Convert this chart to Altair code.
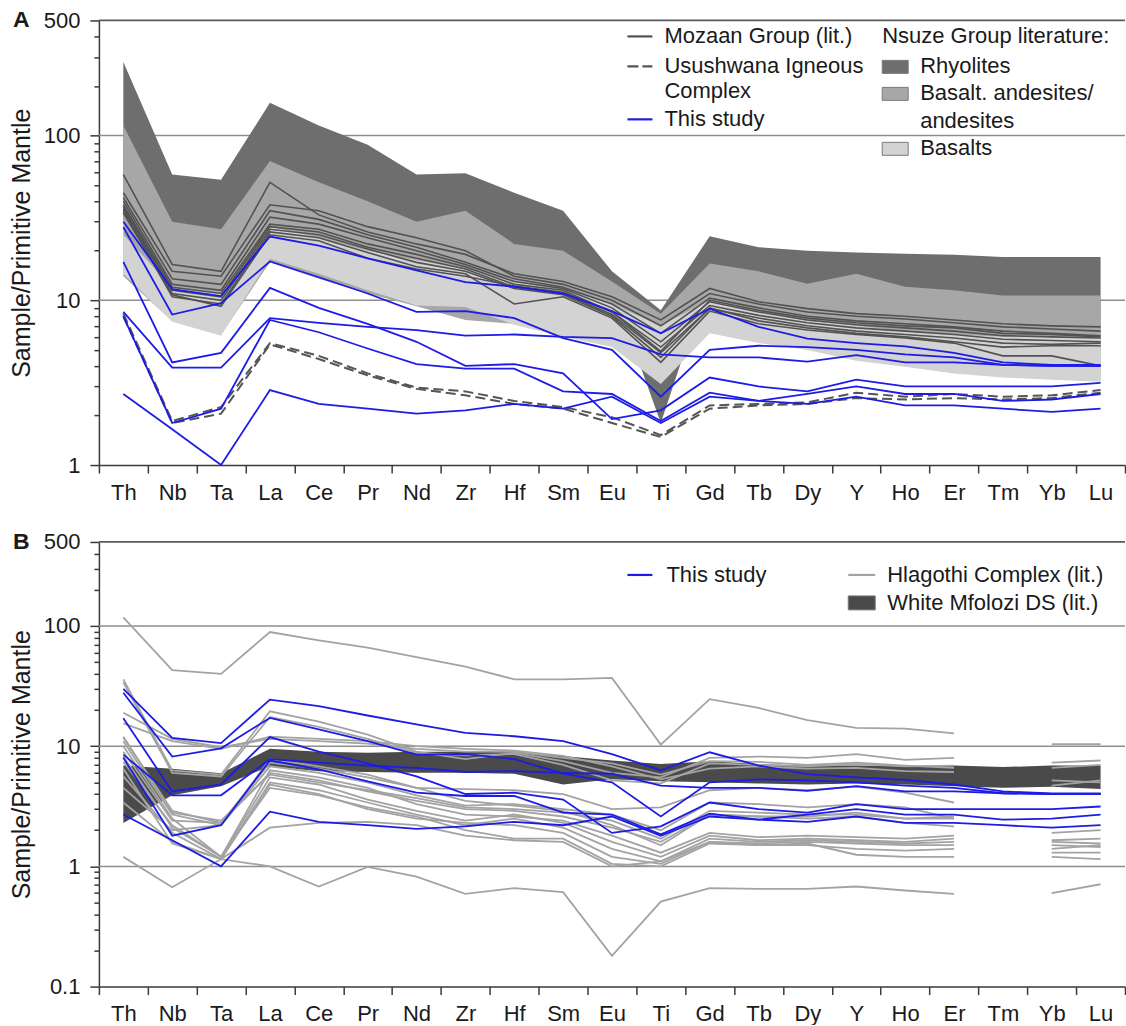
import altair as alt
import pandas as pd

ELEMENTS = ["Th", "Nb", "Ta", "La", "Ce", "Pr", "Nd", "Zr", "Hf", "Sm", "Eu",
            "Ti", "Gd", "Tb", "Dy", "Y", "Ho", "Er", "Tm", "Yb", "Lu"]

# ---- Panel A: Nsuze Group literature envelopes (upper / lower bounds) ----
RHYOLITE_HI = [280, 58, 54, 158, 115, 88, 58, 59, 45, 35, 15, 8.7, 24.5, 21, 20, 19.5, 19.2, 18.9, 18.3, 18.3, 18.3]
RHYOLITE_LO = [30, 10, 9, 20, 17, 14, 12, 11, 10, 9, 12, 1.8, 14, 7, 6.5, 6, 5.5, 5.5, 5, 5, 5]
ANDESITE_HI = [115, 30, 27, 70, 52, 40, 30, 35, 22, 20, 13, 8.3, 16.7, 15, 12.6, 14.5, 12.1, 11.5, 10.7, 10.7, 10.7]
ANDESITE_LO = [14, 7.5, 6.2, 17, 13.5, 11, 9.2, 7.6, 7.2, 6.2, 5.4, 3.3, 6.4, 5.6, 5.1, 4.4, 4.0, 3.7, 3.5, 3.4, 3.3]
BASALT_HI = [25, 12, 11, 28, 24, 20, 17.5, 15.5, 13, 11.5, 9.5, 7.0, 10, 8.5, 7.5, 7, 6.5, 6.2, 6, 6, 6]
BASALT_LO = [14.5, 7.4, 6.1, 17.9, 14.5, 11.5, 9.3, 9.1, 7.1, 6.0, 5.2, 3.1, 6.3, 5.5, 5.0, 4.3, 3.95, 3.6, 3.4, 3.3, 3.2]

# Mozaan Group (lit.)
MOZAAN = [
    [58, 16.5, 15, 52, 33, 26, 22, 19, 14.5, 13, 10.5, 7.6, 11.8, 9.8, 8.9, 8.3, 8.0, 7.6, 7.2, 7.0, 6.9],
    [45, 15, 14, 38, 35, 28, 24, 20, 14, 12.5, 10, 7.0, 11.0, 9.5, 8.5, 8.0, 7.7, 7.3, 6.9, 6.7, 6.5],
    [42, 13.5, 12.5, 35, 31, 25, 21, 17, 13.5, 12, 9.5, 6.3, 10.3, 9.0, 8.0, 7.5, 7.2, 6.9, 6.5, 6.3, 6.1],
    [40, 12.5, 11.5, 32, 29, 24, 20, 16.5, 13, 11.8, 9.0, 5.6, 9.8, 8.5, 7.6, 7.1, 6.8, 6.5, 6.1, 6.0, 5.9],
    [38, 12, 11, 29, 27, 22, 19, 16, 12.5, 11.5, 8.5, 5.2, 9.3, 8.1, 7.3, 6.8, 6.5, 6.2, 5.8, 5.7, 5.6],
    [37, 11.5, 10.5, 28, 26, 21, 18, 15.5, 12, 11, 8.2, 4.8, 8.9, 7.8, 7.0, 6.5, 6.2, 5.9, 5.5, 5.4, 5.5],
    [36, 11, 10, 27, 25, 20.5, 17, 15, 11.8, 10.8, 8.0, 4.5, 9.0, 7.5, 6.8, 6.3, 6.0, 5.6, 5.2, 5.3, 5.3],
    [35, 10.5, 9.5, 26, 24, 19.5, 16, 14.5, 9.5, 10.5, 7.8, 4.2, 8.6, 7.2, 6.6, 6.2, 5.9, 5.5, 4.6, 4.6, 4.0],
    [34, 10.8, 9.2, 25, 23, 18, 15.5, 14, 12.2, 11.2, 8.5, 4.9, 10, 8.7, 7.8, 7.3, 7.0, 6.8, 6.3, 6.2, 6.0],
]

# Usushwana Igneous Complex
USUSHWANA = [
    [8.3, 1.85, 2.25, 5.5, 4.6, 3.6, 2.95, 2.8, 2.45, 2.25, 1.95, 1.52, 2.3, 2.35, 2.4, 2.75, 2.6, 2.7, 2.6, 2.65, 2.85],
    [8.0, 1.8, 2.05, 5.4, 4.4, 3.5, 2.9, 2.65, 2.35, 2.2, 1.8, 1.48, 2.2, 2.3, 2.35, 2.55, 2.5, 2.55, 2.5, 2.55, 2.75],
]

# This study
THIS_STUDY = [
    [30, 11.7, 10.6, 24.4, 21.5, 18, 15.2, 12.9, 12.1, 11.0, 8.6, 6.3, 8.9, 6.9, 5.85, 5.5, 5.25, 4.8, 4.2, 4.05, 4.05],
    [27.8, 8.2, 9.6, 17.2, 13.8, 11.0, 8.5, 8.6, 7.8, 5.9, 5.0, 2.6, 5.0, 5.3, 5.2, 5.0, 4.7, 4.5, 4.06, 4.0, 4.0],
    [17.1, 4.2, 4.8, 11.9, 9.0, 7.2, 5.6, 4.0, 4.1, 3.6, 1.9, 2.15, 3.4, 3.0, 2.8, 3.3, 3.0, 3.0, 3.0, 3.0, 3.15],
    [8.5, 3.9, 3.9, 7.8, 7.3, 6.9, 6.6, 6.1, 6.2, 6.0, 5.9, 4.7, 4.5, 4.5, 4.25, 4.65, 4.2, 4.2, 4.06, 4.0, 4.0],
    [8.0, 1.8, 2.2, 7.6, 6.4, 5.1, 4.1, 3.85, 3.85, 2.8, 2.7, 1.85, 2.75, 2.45, 2.7, 3.0, 2.7, 2.7, 2.45, 2.5, 2.7],
    [2.7, 1.65, 1.0, 2.85, 2.35, 2.2, 2.05, 2.15, 2.35, 2.2, 2.6, 1.8, 2.6, 2.45, 2.35, 2.6, 2.3, 2.3, 2.2, 2.1, 2.2],
]

# ---- Panel B ----
# Hlagothi Complex (lit.); None = not analysed
HLAGOTHI = [
    [118, 43, 40, 89, 76, 66, 55, 46, 36, 36, 37, 10.3, 24.6, 20.8, 16.5, 14.2, 14, 12.8, None, 10.4, 10.4],
    [36, 6.3, 5.8, 19.5, 16, 12.5, 9.0, 7.8, 8.8, 7.5, 6.0, 5.5, 8.0, 8.2, 8.0, 8.6, 7.7, 8.0, None, 7.3, 7.6],
    [34, 6.0, 5.6, 17.5, 14.5, 11.5, 8.8, 8.4, 8.6, 7.0, 5.2, 4.9, 7.2, 7.0, 6.8, 7.1, 6.8, 6.9, None, 6.6, 7.0],
    [19, 11.5, 9.8, 11.5, 11, 10.5, 9.5, 9.0, 9.0, 8.0, 7.2, 5.8, 7.5, 7.4, 7.0, 7.3, 6.9, 6.6, None, 5.2, 5.0],
    [15.5, 11, 9.5, 12, 11.5, 11, 10, 9.5, 9.2, 8.3, 6.8, 5.3, 6.5, 6.8, 6.5, 6.6, 6.2, 6.1, None, 4.7, 5.2],
    [11.8, 2.9, 2.3, 7.3, 6.5, 5.5, 4.5, 4.4, 4.3, 4.0, 3.0, 3.1, 4.3, 4.5, 4.3, 4.6, 4.1, 3.4, None, None, None],
    [11, 2.7, 2.2, 6.8, 6.0, 5.0, 3.9, 3.2, 3.3, 3.0, 2.7, 2.0, 3.4, 3.3, 3.1, 3.3, 3.1, 2.5, None, None, None],
    [9.0, 2.4, 2.3, 6.0, 5.2, 4.2, 3.5, 3.0, 2.9, 2.6, 2.1, 1.6, 2.7, 2.6, 2.5, 2.6, 2.3, 2.15, None, None, None],
    [12, 2.8, 2.4, 5.8, 5.0, 4.3, 3.7, 3.1, 3.0, 2.8, 2.4, 1.7, 2.9, 2.8, 2.7, 2.7, 2.5, 2.5, None, None, None],
    [10, 2.5, 1.2, 6.3, 5.5, 4.5, 3.3, 2.7, 2.6, 2.4, 1.8, 1.3, 1.9, 1.75, 1.8, 1.75, 1.7, 1.8, None, 1.65, 1.7],
    [7.4, 2.2, 1.2, 5.5, 4.8, 3.6, 2.9, 2.4, 2.7, 2.3, 1.6, 1.2, 1.8, 1.65, 1.7, 1.65, 1.6, 1.7, None, 1.6, 1.55],
    [5.6, 1.9, 1.15, 5.0, 4.3, 3.4, 2.7, 2.2, 2.5, 2.1, 1.4, 1.1, 1.7, 1.6, 1.65, 1.6, 1.55, 1.6, None, 1.5, 1.45],
    [3.4, 1.6, 1.15, 4.8, 4.0, 3.0, 2.5, 2.3, 2.2, 1.9, 1.2, 1.05, 1.6, 1.55, 1.6, 1.55, 1.5, 1.5, None, 1.4, 1.5],
    [8.2, 2.1, 1.2, 4.5, 3.9, 3.1, 2.6, 2.0, 1.7, 1.7, 1.05, 1.0, 1.55, 1.5, 1.5, 1.4, 1.35, 1.4, None, 1.3, 1.3],
    [6.5, 1.55, 1.15, 2.1, 2.3, 2.35, 2.2, 1.8, 1.65, 1.6, 1.0, 1.1, 1.6, 1.5, 1.55, 1.25, 1.2, 1.2, None, 1.2, 1.15],
    [4.5, 2.0, 2.2, 7.8, 6.8, 5.8, 4.5, 3.5, 3.2, 2.9, 2.2, 1.5, 2.7, 2.6, 2.6, 2.8, 2.5, 2.6, None, 1.9, 2.0],
    [1.2, 0.67, 1.15, 1.0, 0.68, 0.99, 0.82, 0.59, 0.66, 0.61, 0.18, 0.51, 0.66, 0.65, 0.65, 0.68, 0.63, 0.59, None, 0.6, 0.71],
]

# White Mfolozi DS (lit.) envelope
MFOLOZI_HI = [6.9, 6.5, 5.95, 9.5, 9.0, 8.8, 9.0, 9.0, 8.9, 8.3, 7.6, 7.1, 7.5, 7.1, 6.9, 6.9, 6.8, 6.9, 6.7, 6.9, 6.9]
MFOLOZI_LO = [2.3, 3.9, 4.65, 6.8, 6.2, 6.1, 6.0, 6.0, 5.9, 4.8, 5.3, 5.1, 5.0, 4.9, 4.8, 4.9, 4.8, 4.65, 4.5, 4.6, 4.4]

GRID_A = [10, 100]
GRID_B = [1, 10, 100]
TOP_LINE = [500]
TICKS_A = [1, 2, 3, 4, 5, 6, 7, 8, 9, 10, 20, 30, 40, 50, 60, 70, 80, 90, 100, 200, 300, 400, 500]
TICKS_B = [0.1, 0.2, 0.3, 0.4, 0.5, 0.6, 0.7, 0.8, 0.9] + TICKS_A

# ---- styling ----
W, H = 1027, 445
GAP = 77
FONT = "Liberation Sans"
FS = 22
INK = "#1a1a1a"
AXIS_INK = "#3a3a3a"
BLUE = "#1c1ce6"
MOZAAN_C = "#525252"
HLAGOTHI_C = "#a3a3a3"
RHY_C, AND_C, BAS_C = "#6e6e6e", "#a7a7a7", "#d3d3d3"
MFOLOZI_C = "#4a4a4a"
DUMMY = pd.DataFrame({"_": [0]})


def series_frame(series_list, tag):
    """Long table of profiles; a gap (None) starts a new path segment."""
    rows = []
    for k, vals in enumerate(series_list):
        seg, gap = 0, False
        for i, v in enumerate(vals):
            if v is None:
                gap = True
                continue
            if gap:
                seg += 1
                gap = False
            rows.append({"el": ELEMENTS[i], "idx": i, "v": v, "line": f"{tag}{k}-{seg}"})
    return pd.DataFrame(rows)


def band_frame(lo, hi):
    return pd.DataFrame({"el": ELEMENTS, "idx": list(range(len(ELEMENTS))), "lo": lo, "hi": hi})


X_AXIS = alt.Axis(title="", labelAngle=0, labelFont=FONT, labelFontSize=FS, labelColor=INK,
                  labelPadding=9, tickBand="extent", tickSize=8, tickWidth=1.5, tickColor=AXIS_INK,
                  domainColor=AXIS_INK, domainWidth=1.5, grid=False, labelOverlap=False)
X_SCALE = alt.Scale(type="band", paddingInner=0, paddingOuter=0)


def x_enc():
    return alt.X("el:N", sort=ELEMENTS, scale=X_SCALE, axis=X_AXIS)


def y_axis(ticks, majors):
    test = " || ".join(f"datum.value == {m}" for m in majors)
    return alt.Axis(
        title="Sample/Primitive Mantle", titleFont=FONT, titleFontSize=25, titleFontWeight="normal",
        titleColor=INK, titleAngle=270, titleAlign="center", titleBaseline="middle",
        titleX=-77, titleY=H / 2,
        values=ticks, format="~g",
        labelExpr=f"({test}) ? datum.label : ''",
        labelFont=FONT, labelFontSize=FS, labelColor=INK, labelPadding=10, labelOverlap=False,
        tickSize={"condition": {"test": test, "value": 9}, "value": 5},
        tickWidth=1.5, tickColor=AXIS_INK, domainColor=AXIS_INK, domainWidth=1.5, grid=False,
    )


def make_y(field, scale, axis):
    return alt.Y(field, type="quantitative", scale=scale, axis=axis)


def hrules(values, scale, axis, color, width):
    df = pd.DataFrame({"v": values})
    return alt.Chart(df).mark_rule(color=color, strokeWidth=width).encode(
        x=alt.value(0), x2=alt.value(W), y=make_y("v", scale, axis))


def band(lo, hi, color, scale, axis):
    return alt.Chart(band_frame(lo, hi)).mark_area(color=color, opacity=1, interpolate="linear").encode(
        x=x_enc(), y=make_y("hi", scale, axis), y2=alt.Y2("lo"))


def profiles(series, tag, scale, axis, color, width, dash=None):
    kw = {"color": color, "strokeWidth": width}
    if dash:
        kw["strokeDash"] = dash
    return alt.Chart(series_frame(series, tag)).mark_line(**kw).encode(
        x=x_enc(), y=make_y("v", scale, axis), detail="line:N", order="idx:Q")


def text(label, x, y, size=FS, weight="normal"):
    return alt.Chart(DUMMY).mark_text(text=label, font=FONT, fontSize=size, fontWeight=weight,
                                      color=INK, align="left", baseline="middle").encode(
        x=alt.value(x), y=alt.value(y))


def swatch_line(x1, x2, y, color, width=2.2, dash=None):
    kw = {"color": color, "strokeWidth": width}
    if dash:
        kw["strokeDash"] = dash
    return alt.Chart(DUMMY).mark_rule(**kw).encode(
        x=alt.value(x1), x2=alt.value(x2), y=alt.value(y), y2=alt.value(y))


def swatch_box(x1, x2, y1, y2, fill):
    return alt.Chart(DUMMY).mark_rect(fill=fill, stroke="#7a7a7a", strokeWidth=1).encode(
        x=alt.value(x1), x2=alt.value(x2), y=alt.value(y1), y2=alt.value(y2))


def anchor():
    # invisible point fixing the top-left corner of the drawing
    return alt.Chart(DUMMY).mark_rule(color="white", opacity=0, strokeWidth=0).encode(
        x=alt.value(-99), x2=alt.value(-99), y=alt.value(-20), y2=alt.value(-20))


# ---------------- Panel A ----------------
yA = alt.Scale(type="log", domain=[1, 500], nice=False)
axA = y_axis(TICKS_A, [1, 10, 100, 500])

panel_a = alt.layer(
    hrules(GRID_A, yA, axA, "#8e8e8e", 1.5),
    hrules(TOP_LINE, yA, axA, "#5a5a5a", 1.8),
    band(RHYOLITE_LO, RHYOLITE_HI, RHY_C, yA, axA),
    band(ANDESITE_LO, ANDESITE_HI, AND_C, yA, axA),
    band(BASALT_LO, BASALT_HI, BAS_C, yA, axA),
    profiles(MOZAAN, "m", yA, axA, MOZAAN_C, 1.6),
    profiles(USUSHWANA, "u", yA, axA, "#555555", 2.0, dash=[10, 5]),
    profiles(THIS_STUDY, "s", yA, axA, BLUE, 1.8),
    swatch_line(529, 554, 16, MOZAAN_C),
    text("Mozaan Group (lit.)", 566, 16),
    swatch_line(529, 554, 46, "#555555", dash=[11, 4]),
    text("Usushwana Igneous", 566, 46),
    text("Complex", 566, 71),
    swatch_line(529, 554, 99, BLUE),
    text("This study", 566, 99),
    text("Nsuze Group literature:", 784, 16),
    swatch_box(784, 810, 40, 53, RHY_C),
    text("Rhyolites", 822, 46),
    swatch_box(784, 810, 67, 80, AND_C),
    text("Basalt. andesites/", 822, 73),
    text("andesites", 822, 101),
    swatch_box(784, 810, 122, 135, BAS_C),
    text("Basalts", 822, 128),
    text("A", -86, 0, size=23, weight="bold"),
    anchor(),
).properties(width=W, height=H)

# ---------------- Panel B ----------------
yB = alt.Scale(type="log", domain=[0.1, 500], nice=False)
axB = y_axis(TICKS_B, [0.1, 1, 10, 100, 500])

panel_b = alt.layer(
    hrules(GRID_B, yB, axB, "#8e8e8e", 1.5),
    hrules(TOP_LINE, yB, axB, "#5a5a5a", 1.8),
    band(MFOLOZI_LO, MFOLOZI_HI, MFOLOZI_C, yB, axB),
    profiles(HLAGOTHI, "h", yB, axB, HLAGOTHI_C, 1.8),
    profiles(THIS_STUDY, "s", yB, axB, BLUE, 1.8),
    swatch_line(529, 554, 33, BLUE),
    text("This study", 568, 33),
    swatch_line(750, 777, 33, HLAGOTHI_C),
    text("Hlagothi Complex (lit.)", 789, 33),
    swatch_box(750, 777, 54, 68, MFOLOZI_C),
    text("White Mfolozi DS (lit.)", 789, 61),
    text("B", -86, 0, size=23, weight="bold"),
).properties(width=W, height=H)

chart = alt.vconcat(panel_a, panel_b, spacing=GAP, bounds="flush").properties(
    padding={"left": 0, "top": 0, "right": 0, "bottom": 0}
).configure_view(strokeWidth=0)

chart.save("out.html", embed_options={"renderer": "svg", "actions": False})
